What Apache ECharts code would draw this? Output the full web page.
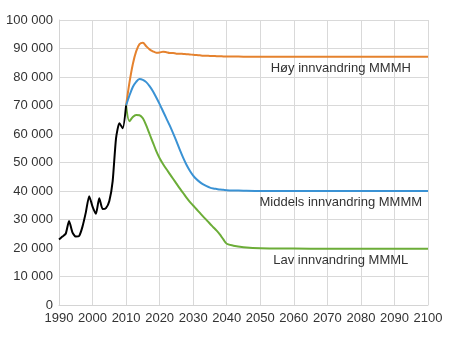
<!DOCTYPE html>
<html>
<head>
<meta charset="utf-8">
<script src="https://cdn.jsdelivr.net/npm/echarts@6/dist/echarts.min.js"></script>
<style>
  html, body { margin: 0; padding: 0; background: #fff; }
  #chart { width: 450px; height: 353px; }
</style>
</head>
<body>
<div id="chart"></div>
<script>
// registered history
const histYears = [1990, 1991, 1992, 1993, 1994, 1995, 1996, 1997, 1998, 1999, 2000,
  2001, 2002, 2003, 2004, 2005, 2006, 2007, 2008, 2009, 2010];
const histValues = [23000, 24000, 25000, 29500, 25500, 24000, 24200, 27500, 32500, 38200, 34500,
  32000, 37500, 33700, 34000, 36500, 43500, 58500, 63800, 62000, 70000];

// projections
const projYears = [2010, 2011, 2012, 2013, 2014, 2015, 2016, 2017, 2018, 2019, 2020,
  2021, 2022, 2023, 2024, 2025, 2026, 2027, 2028, 2029, 2030,
  2031, 2032, 2033, 2034, 2035, 2036, 2037, 2038, 2039, 2040,
  2042, 2045, 2050, 2060, 2070, 2080, 2090, 2100];
const highValues = [70000, 78000, 84500, 89000, 91500, 92000, 90800, 89700, 89000, 88500, 88600,
  88900, 88700, 88400, 88400, 88200, 88200, 88100, 88000, 87900, 87800,
  87700, 87600, 87500, 87500, 87400, 87400, 87300, 87300, 87200, 87200,
  87200, 87100, 87100, 87100, 87100, 87100, 87100, 87100];
const midValues = [70000, 73500, 76500, 78300, 79300, 79000, 78200, 76800, 75000, 72800, 70500,
  68000, 65500, 63000, 60300, 57500, 54500, 51700, 49200, 47100, 45400,
  44100, 43100, 42300, 41700, 41200, 40900, 40700, 40500, 40400, 40300,
  40200, 40100, 40000, 40000, 40000, 40000, 40000, 40000];
const lowValues = [70000, 64500, 66000, 66700, 66600, 65500, 63000, 60000, 57000, 54000, 51500,
  49500, 47700, 46000, 44300, 42600, 40900, 39300, 37700, 36200, 34900,
  33600, 32300, 31000, 29800, 28500, 27300, 26100, 24700, 23000, 21500,
  20800, 20300, 19900, 19800, 19700, 19700, 19700, 19700];

const seriesNames = ['Høy innvandring MMMH', 'Middels innvandring MMMM', 'Lav innvandring MMML'];
const labelYear = 2074;

const font = 'Liberation Sans, Arial, sans-serif';
const pair = (xs, ys) => xs.map((x, i) => [x, ys[i]]);

function projSeries(name, values, color, level) {
  return {
    name: name,
    type: 'line',
    data: pair(projYears, values),
    showSymbol: false,
    smooth: 0.3,
    lineStyle: {color: color, width: 2},
    itemStyle: {color: color},
    z: 2,
    markPoint: {
      symbol: 'circle',
      symbolSize: 0,
      silent: true,
      data: [{coord: [labelYear, level]}],
      label: {
        show: true,
        formatter: name,
        position: 'bottom',
        distance: 5,
        color: '#333',
        fontSize: 13,
        fontFamily: font,
      },
    },
  };
}

const chart = echarts.init(document.getElementById('chart'), null, {renderer: 'canvas'});
chart.setOption({
  animation: false,
  grid: {left: 59, right: 22, top: 20, bottom: 48},
  xAxis: {
    type: 'value',
    min: 1990,
    max: 2100,
    interval: 10,
    axisLine: {show: true, lineStyle: {color: '#d4d4d4', width: 1}},
    axisTick: {show: false},
    splitLine: {show: true, lineStyle: {color: '#d9d9d9', width: 1}},
    axisLabel: {color: '#333', fontSize: 13, fontFamily: font, margin: 7, formatter: v => String(v)},
  },
  yAxis: {
    type: 'value',
    min: 0,
    max: 100000,
    interval: 10000,
    axisLine: {show: true, lineStyle: {color: '#d4d4d4', width: 1}},
    axisTick: {show: false},
    splitLine: {show: true, lineStyle: {color: '#d9d9d9', width: 1}},
    axisLabel: {
      color: '#333',
      fontSize: 13,
      fontFamily: font,
      margin: 6,
      formatter: v => String(v).replace(/\B(?=(\d{3})+(?!\d))/g, ' '),
    },
  },
  series: [
    projSeries(seriesNames[0], highValues, '#e5822e', 87100),
    projSeries(seriesNames[1], midValues, '#3a92d4', 40000),
    projSeries(seriesNames[2], lowValues, '#6cad38', 19700),
    {
      name: 'Registrert',
      type: 'line',
      data: pair(histYears, histValues),
      showSymbol: false,
      smooth: 0.2,
      lineStyle: {color: '#000', width: 2},
      z: 3,
    },
  ],
});
</script>
</body>
</html>
